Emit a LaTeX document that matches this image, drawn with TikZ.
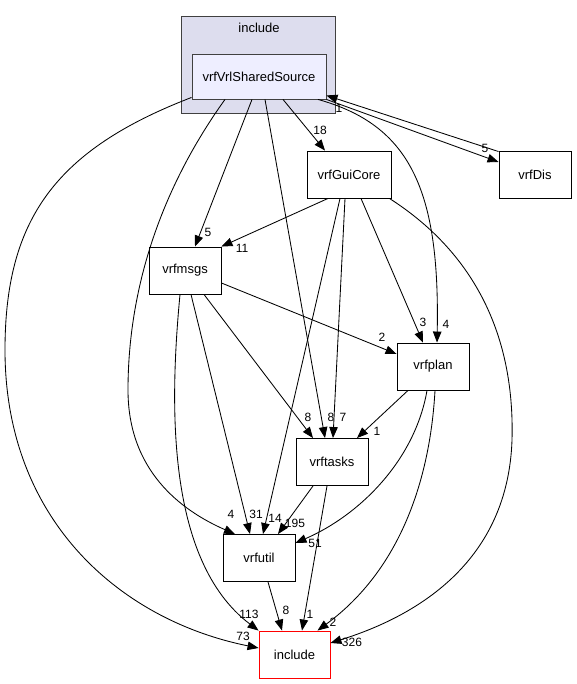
\documentclass[tikz,border=0pt]{standalone}
\usepackage{fontspec}
\setmainfont{Liberation Sans}
\usetikzlibrary{arrows.meta,calc}
\definecolor{clfill}{RGB}{221,221,238}
\definecolor{srcfill}{RGB}{238,238,255}
\definecolor{clborder}{RGB}{64,64,64}
\begin{document}
\begin{tikzpicture}[x=1pt,y=-1pt,
  box/.style={draw=black,line width=0.9pt,minimum height=47pt,minimum width=72pt,inner sep=0pt,font=\fontsize{13}{15}\selectfont,fill=white},
  edge/.style={draw=black,line width=0.85pt,-{Triangle[length=11pt,width=8.5pt]}},
  lbl/.style={font=\fontsize{12}{14}\selectfont,inner sep=0pt}]
\useasboundingbox (0,0) rectangle (576,684);
% cluster
\node[draw=clborder,fill=clfill,line width=0.9pt,minimum width=154pt,minimum height=97pt,inner sep=0pt] (cl) at (258,64.5) {};
\node[font=\fontsize{13}{15}\selectfont,inner sep=0pt] (cltitle) at (259,28) {include};
% nodes
\node[box,draw=clborder,fill=srcfill,minimum width=134pt,minimum height=45pt] (src) at (259,76.5) {vrfVrlSharedSource};
\node[box] (dis) at (535,174.5) {vrfDis};
\node[box,minimum width=84pt] (gui) at (349,174.5) {vrfGuiCore};
\node[box] (msgs) at (185,270.5) {vrfmsgs};
\node[box] (plan) at (433,366.5) {vrfplan};
\node[box] (tasks) at (332,462) {vrftasks};
\node[box] (util) at (259,558) {vrfutil};
\node[box,draw=red,minimum width=71pt] (inc) at (294.5,654.5) {include};
% edges from vrfVrlSharedSource
\draw[edge] ($(src.south west)+(0,-2)$) .. controls (55,150) and (5,220) .. (5,350)
  .. controls (5,520) and (120,620) .. ($(inc.west)+(0,-6.5)$);
\draw[edge] ($(src.south)+(-34,0)$) .. controls (160,190) and (128,290) .. (128,390)
  .. controls (128,470) and (180,510) .. ($(util.north)+(-24,0)$);
\draw[edge] ($(src.south)+(-7,0)$) -- ($(msgs.north)+(10,0)$);
\draw[edge] ($(src.south)+(6,0)$) -- ($(tasks.north)+(-7,0)$);
\draw[edge] ($(src.south)+(24,0)$) -- ($(gui.north)+(-24,0)$);
\draw[edge] ($(src.south)+(59,0)$) .. controls (410,125) and (440,190) .. ($(plan.north)+(4,0)$);
\draw[edge] (src.south east) -- ($(dis.west)+(0,-12.5)$);
\draw[edge] ($(dis.north west)+(0,1)$) -- ($(src.south east)+(0,-4)$);
% edges from vrfGuiCore
\draw[edge] ($(gui.south)+(-21,0)$) -- (msgs.north east);
\draw[edge] ($(gui.south)+(-9,0)$) -- ($(util.north)+(4,0)$);
\draw[edge] ($(gui.south)+(-4,0)$) -- ($(tasks.north)+(1,0)$);
\draw[edge] ($(gui.south)+(12,0)$) -- ($(plan.north)+(-10,0)$);
\draw[edge] ($(gui.south east)+(-2,0)$) .. controls (470,250) and (515,330) .. (512,440)
  .. controls (508,560) and (420,615) .. ($(inc.east)+(0,-11.5)$);
% edges from vrfmsgs
\draw[edge] ($(msgs.east)+(0,12.5)$) -- ($(plan.west)+(0,-12.5)$);
\draw[edge] ($(msgs.south)+(19,0)$) -- ($(tasks.north)+(-19,0)$);
\draw[edge] ($(msgs.south)+(6,0)$) -- ($(util.north)+(-9,0)$);
\draw[edge] ($(msgs.south)+(-5,0)$) .. controls (170,400) and (165,560) .. (inc.north west);
% edges from vrfplan
\draw[edge] ($(plan.south)+(-25,0)$) -- ($(tasks.north)+(25,0)$);
\draw[edge] ($(plan.south)+(-6,0)$) .. controls (415,460) and (360,515) .. ($(util.east)+(0,-15)$);
\draw[edge] ($(plan.south)+(2,0)$) .. controls (430,480) and (400,570) .. ($(inc.north)+(23,0)$);
% edges from vrftasks
\draw[edge] ($(tasks.south)+(-19,0)$) -- ($(util.north)+(19,0)$);
\draw[edge] ($(tasks.south)+(-5,0)$) -- ($(inc.north)+(7.5,0)$);
% edge from vrfutil
\draw[edge] ($(util.south)+(9,0)$) -- ($(inc.north)+(-12.5,0)$);
% labels
\node[lbl] (l73) at (243,636) {73};
\node[lbl] (l4a) at (231,514) {4};
\node[lbl] (l5a) at (208,232) {5};
\node[lbl] (l8a) at (331,417) {8};
\node[lbl] (l18) at (320,130) {18};
\node[lbl] (l4b) at (446,324) {4};
\node[lbl] (l5b) at (485,148) {5};
\node[lbl] (l1a) at (339,108) {1};
\node[lbl] (l11) at (242,248) {11};
\node[lbl] (l14) at (275,518) {14};
\node[lbl] (l7) at (343,417) {7};
\node[lbl] (l3) at (423,322) {3};
\node[lbl] (l326) at (352,642) {326};
\node[lbl] (l2a) at (382,337) {2};
\node[lbl] (l8b) at (308,417) {8};
\node[lbl] (l31) at (256,514) {31};
\node[lbl] (l113) at (249,614) {113};
\node[lbl] (l1b) at (377,431) {1};
\node[lbl] (l51) at (315,543) {51};
\node[lbl] (l2b) at (333,622) {2};
\node[lbl] (l195) at (295,523) {195};
\node[lbl] (l1c) at (310,614) {1};
\node[lbl] (l8c) at (286,610) {8};
\end{tikzpicture}
\end{document}
